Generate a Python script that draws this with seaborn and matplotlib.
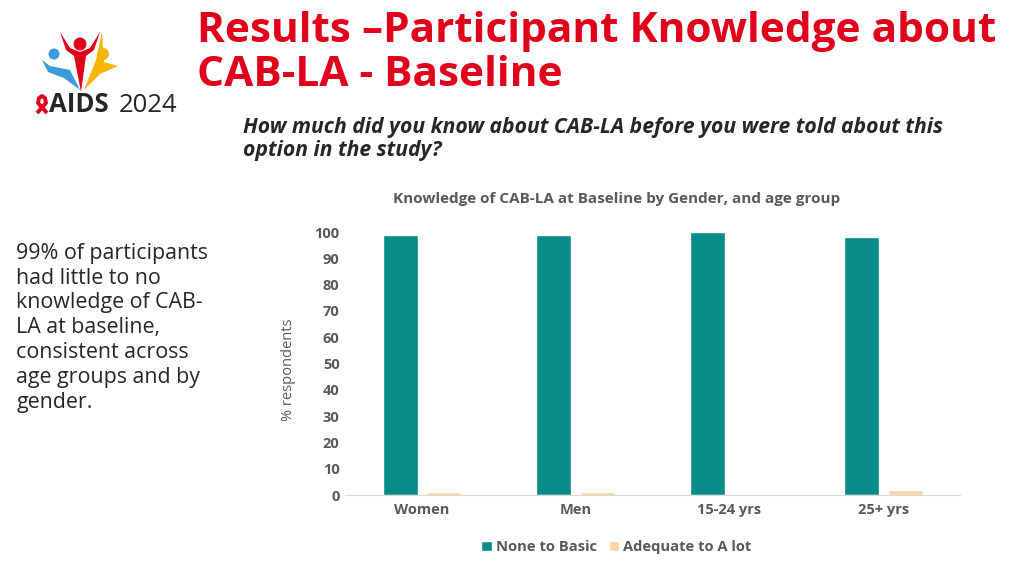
import pandas as pd
import matplotlib.pyplot as plt
import seaborn as sns
from matplotlib.patches import Circle, Polygon
from matplotlib.path import Path
from matplotlib.patches import PathPatch

# data
groups = ['Women', 'Men', '15-24 yrs', '25+ yrs']
none_to_basic = [99, 99, 100, 98]
adequate_to_alot = [1, 1, 0, 2]
series = ['None to Basic', 'Adequate to A lot']

df = pd.DataFrame({
    'group': groups * 2,
    'level': [series[0]] * 4 + [series[1]] * 4,
    'pct': none_to_basic + adequate_to_alot,
})

sns.set_style('white')
plt.rcParams['font.family'] = ['Open Sans', 'DejaVu Sans']

grey = '#595959'
teal = '#088C87'
peach = '#FDD49D'

fig = plt.figure(figsize=(10.24, 5.75), dpi=100)

# slide text
fig.text(0.1925, 0.907, 'Results \u2013Participant Knowledge about\nCAB-LA - Baseline',
         color='#E0001B', fontsize=30.5, fontweight='bold', va='center', ha='left',
         linespacing=1.07)
fig.text(0.237, 0.758, 'How much did you know about CAB-LA before you were told about this\noption in the study?',
         fontsize=15.2, fontweight='bold', style='italic', va='center', ha='left',
         linespacing=1.12)
fig.text(0.016, 0.43, '99% of participants\nhad little to no\nknowledge of CAB-\nLA at baseline,\nconsistent across\nage groups and by\ngender.',
         fontsize=15.4, va='center', ha='left', linespacing=1.24)

# logo (rough)
la = fig.add_axes([0.0, 0.78, 0.2, 0.22])
la.set_xlim(0, 204.8)
la.set_ylim(126.5, 0)
la.axis('off')
la.add_patch(Polygon([(42, 60), (50, 66), (70, 70), (80, 90), (64, 78), (48, 72)],
                     color='#3D9AD9', lw=0))
la.add_patch(Circle((54, 54), 5.5, color='#3D9AD9', lw=0))
la.add_patch(Polygon([(60, 32), (66, 50), (74, 56), (81, 92), (86, 56), (94, 50),
                      (100, 32), (90, 48), (80, 52), (70, 48)], color='#E0001B', lw=0))
la.add_patch(Circle((80, 44), 6.5, color='#E0001B', lw=0))
la.add_patch(Polygon([(102, 32), (96, 60), (84, 90), (100, 74), (118, 66), (104, 62)],
                     color='#F7B500', lw=0))
la.add_patch(Circle((103, 54), 6, color='#F7B500', lw=0))
# red ribbon
rib = Path([(47, 113), (38, 103), (39, 98), (42, 96), (45, 98), (46, 103), (37, 113)],
           [Path.MOVETO] + [Path.LINETO] * 6)
la.add_patch(PathPatch(rib, fill=False, color='#E0001B', lw=2.8, capstyle='butt',
                       joinstyle='round'))
la.text(49, 105, 'AIDS', fontsize=18.5, fontweight='bold', va='center')
la.text(119, 105, '2024', fontsize=18.5, va='center')

# chart
ax = fig.add_axes([0.337, 0.139, 0.6005, 0.4575])
sns.barplot(data=df, x='group', y='pct', hue='level', palette=[teal, peach],
            saturation=1, width=0.57, gap=0.2, ax=ax, legend=True)
ax.set_ylim(0, 100)
ax.set_yticks(range(0, 101, 10))
ax.set_xlabel('')
ax.set_ylabel('')
for s in ['top', 'right', 'left']:
    ax.spines[s].set_visible(False)
ax.spines['bottom'].set_color('#D9D9D9')
ax.tick_params(axis='both', length=0, labelsize=10.5, labelcolor=grey)
ax.tick_params(axis='y', pad=4)
ax.tick_params(axis='x', pad=6)
for t in ax.get_xticklabels() + ax.get_yticklabels():
    t.set_fontweight('bold')

handles, labels = ax.get_legend_handles_labels()
ax.get_legend().remove()
leg = fig.legend(handles, labels, loc='center', bbox_to_anchor=(0.602, 0.049), ncol=2,
                 frameon=False, handlelength=0.7, handleheight=0.7, handletextpad=0.3,
                 columnspacing=0.8, prop={'size': 10.6, 'weight': 'bold'})
for t in leg.get_texts():
    t.set_color(grey)

fig.text(0.6025, 0.654, 'Knowledge of CAB-LA at Baseline by Gender, and age group',
         ha='center', va='center', fontsize=11, fontweight='bold', color=grey)
fig.text(0.282, 0.357, '% respondents', rotation=90, ha='center', va='center',
         fontsize=10.5, color=grey)

plt.savefig('out.png', dpi=100)
